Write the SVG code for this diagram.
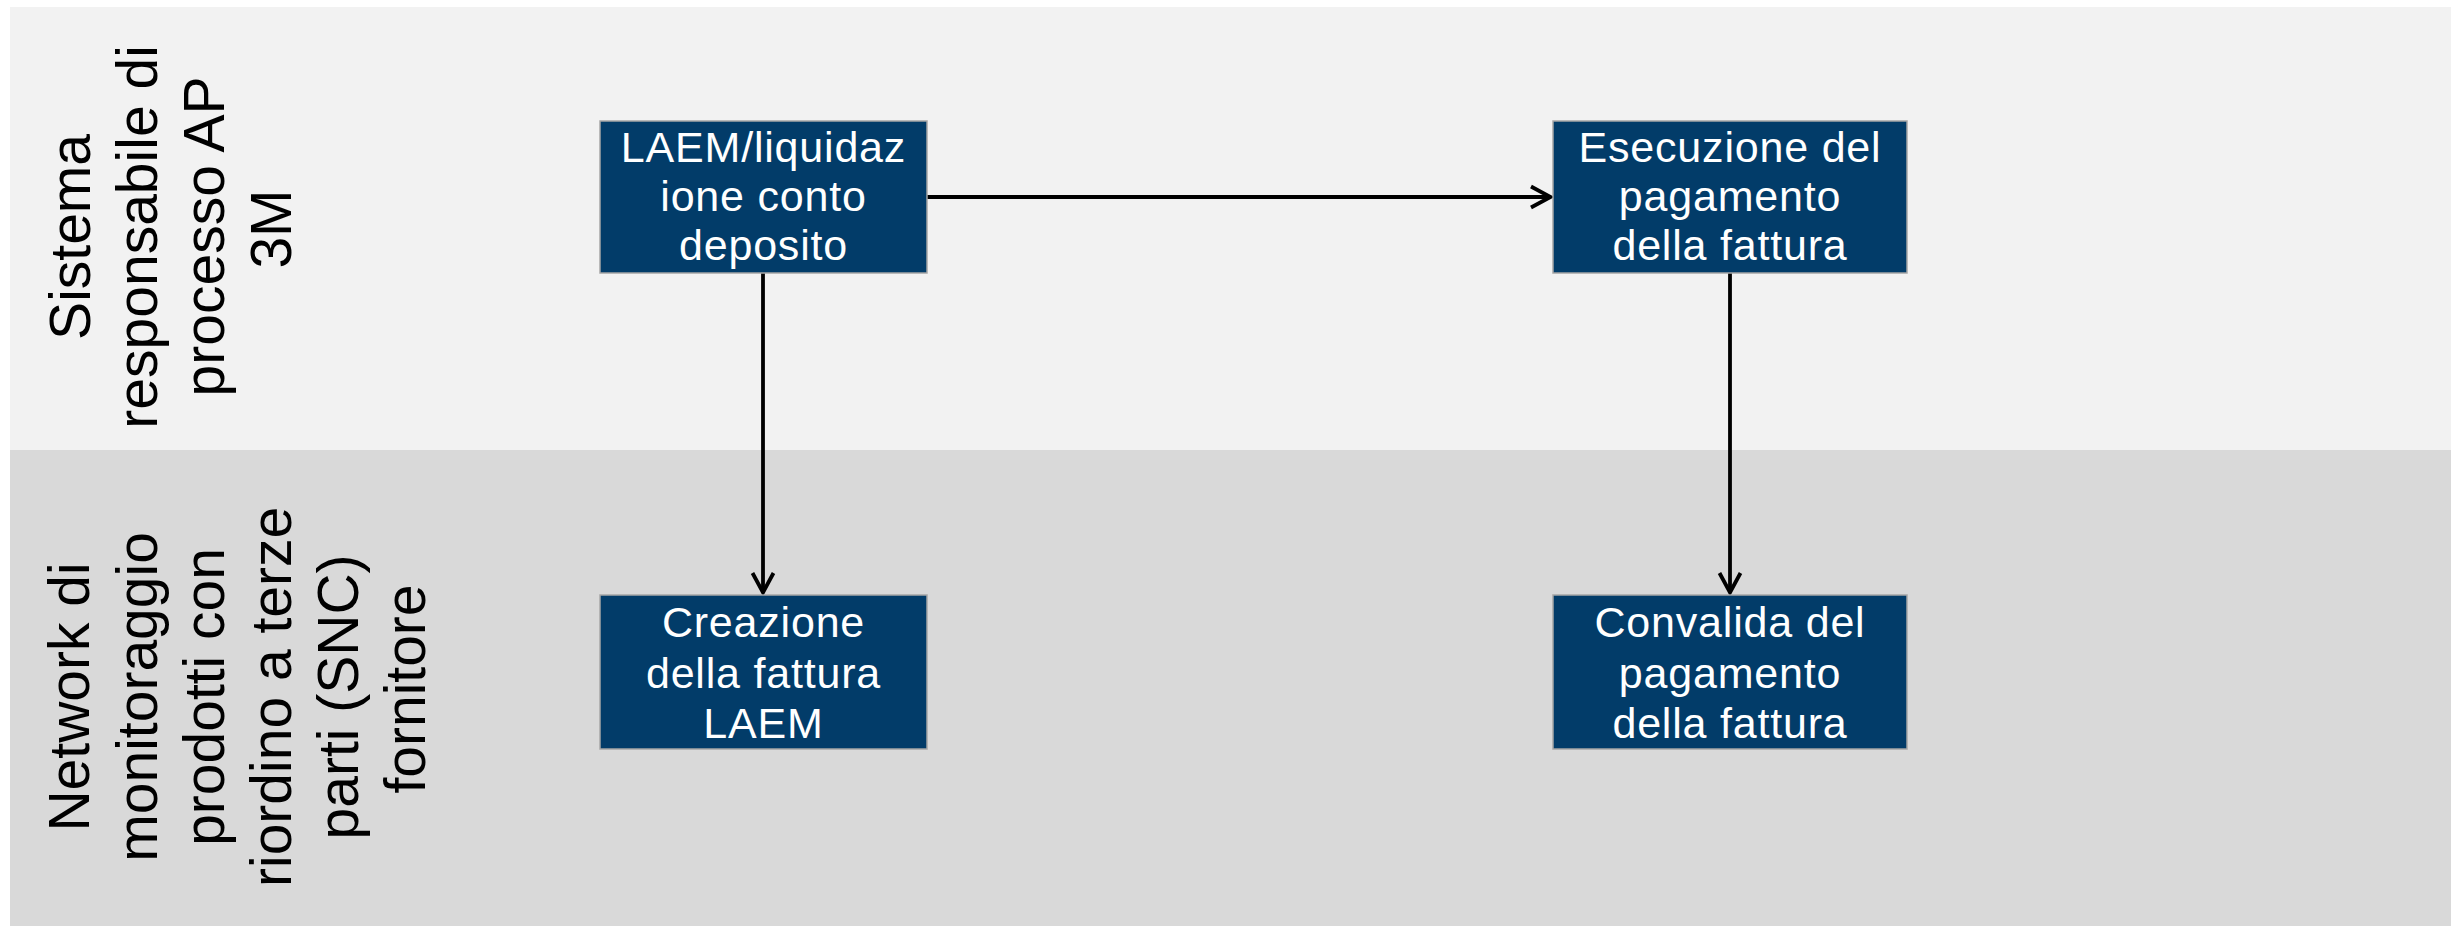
<svg xmlns="http://www.w3.org/2000/svg" width="2451" height="926" viewBox="0 0 2451 926">
<style>
.lane-top{fill:#f2f2f2}
.lane-bot{fill:#d9d9d9}
.box{fill:#023c69;stroke:#a6a6a6;stroke-width:1.5}
.bt{font-family:"Liberation Sans",Arial,sans-serif;font-size:43px;letter-spacing:0.8px;fill:#ffffff;text-anchor:middle}
.lt{font-family:"Liberation Sans",Arial,sans-serif;font-size:57px;fill:#000000;text-anchor:middle}
.conn{stroke:#000;stroke-width:3.8;fill:none}
</style>
<defs>
<marker id="arrh" markerWidth="26" markerHeight="26" refX="22" refY="12" orient="auto" markerUnits="userSpaceOnUse" viewBox="0 0 26 24">
<path d="M2,1.5 L21.5,12 L2,22.5" fill="none" stroke="#000" stroke-width="3.8"/>
</marker>
</defs>
<g id="lanes">
<rect class="lane-top" x="10" y="7" width="2441" height="443"/>
<rect class="lane-bot" x="10" y="450" width="2441" height="476"/>
</g>
<g id="lane1-label">
<text class="lt" transform="rotate(-90)">
<tspan x="-229" y="90">Sistema</tspan>
<tspan x="-229" y="157">responsabile di</tspan>
<tspan x="-229" y="224">processo AP</tspan>
<tspan x="-229" y="291">3M</tspan>
</text>
</g>
<g id="lane2-label">
<text class="lt" transform="rotate(-90)">
<tspan x="-689" y="89">Network di</tspan>
<tspan x="-689" y="157">monitoraggio</tspan>
<tspan x="-689" y="224">prodotti con</tspan>
<tspan x="-689" y="291">riordino a terze</tspan>
<tspan x="-689" y="358">parti (SNC)</tspan>
<tspan x="-689" y="425">fornitore</tspan>
</text>
</g>
<g id="connectors">
<line class="conn" x1="927" y1="197" x2="1551" y2="197" marker-end="url(#arrh)"/>
<line class="conn" x1="763" y1="273" x2="763" y2="593" marker-end="url(#arrh)"/>
<line class="conn" x1="1730" y1="273" x2="1730" y2="593" marker-end="url(#arrh)"/>
</g>
<g id="node-laem">
<rect class="box" x="600" y="121" width="327" height="152"/>
<text class="bt"><tspan x="763.5" y="162">LAEM/liquidaz</tspan><tspan x="763.5" y="211">ione conto</tspan><tspan x="763.5" y="260">deposito</tspan></text>
</g>
<g id="node-esecuzione">
<rect class="box" x="1553" y="121" width="354" height="152"/>
<text class="bt"><tspan x="1730" y="162">Esecuzione del</tspan><tspan x="1730" y="211">pagamento</tspan><tspan x="1730" y="260">della fattura</tspan></text>
</g>
<g id="node-creazione">
<rect class="box" x="600" y="595" width="327" height="154"/>
<text class="bt"><tspan x="763.5" y="637">Creazione</tspan><tspan x="763.5" y="688">della fattura</tspan><tspan x="763.5" y="738">LAEM</tspan></text>
</g>
<g id="node-convalida">
<rect class="box" x="1553" y="595" width="354" height="154"/>
<text class="bt"><tspan x="1730" y="637">Convalida del</tspan><tspan x="1730" y="688">pagamento</tspan><tspan x="1730" y="738">della fattura</tspan></text>
</g>
</svg>
